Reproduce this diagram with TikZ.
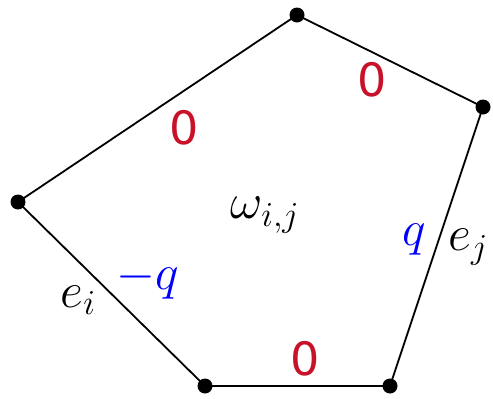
\documentclass[tikz,border=0pt]{standalone}
\usepackage{fix-cm}
\usepackage{fontspec}
\setsansfont{DejaVu Sans}
\definecolor{zred}{RGB}{200,18,42}
\definecolor{zblue}{RGB}{0,0,255}
\begin{document}
\begin{tikzpicture}[x=1pt,y=-1pt,
  edge/.style={line width=1.8pt},
  vtx/.style={circle,fill=black,inner sep=0pt,minimum size=15pt},
  zero/.style={text=zred,font=\sffamily\fontsize{46}{52}\selectfont,inner sep=0pt},
  lab/.style={font=\fontsize{50}{60}\selectfont,inner sep=0pt},
  blab/.style={lab,text=zblue}]
\useasboundingbox (0,0) rectangle (493,399);
\node[vtx] (v1) at (297,15) {};
\node[vtx] (v2) at (483,107) {};
\node[vtx] (v3) at (390,386) {};
\node[vtx] (v4) at (205,386) {};
\node[vtx] (v5) at (18,202) {};
\draw[edge] (v1.center) -- (v2.center) -- (v3.center) -- (v4.center) -- (v5.center) -- (v1.center);
\node[zero] (z1) at (184,128) {0};
\node[zero] (z2) at (372,80) {0};
\node[zero] (z3) at (305,359) {0};
\node[lab] (w) at (265,215) {$\omega_{i,j}$};
\node[blab] (q) at (414,240) {$q$};
\node[lab] (ej) at (468,247) {$e_j$};
\node[blab] (mq) at (148,280) {$-q$};
\node[lab] (ei) at (78,300) {$e_i$};
\end{tikzpicture}
\end{document}
